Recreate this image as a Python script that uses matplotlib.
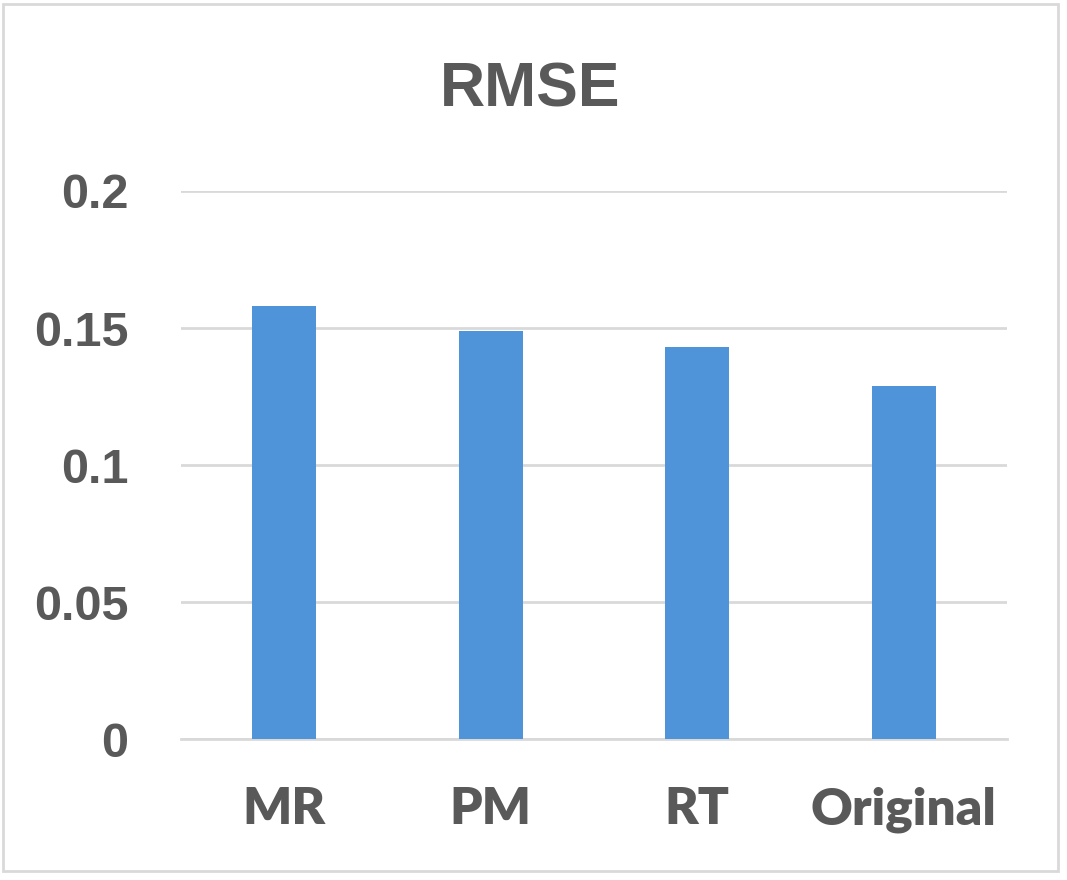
import matplotlib
matplotlib.use("Agg")
import matplotlib.pyplot as plt
from matplotlib.patches import Rectangle

categories = ["MR", "PM", "RT", "Original"]
values = [0.158, 0.149, 0.143, 0.129]
yticks = [0, 0.05, 0.1, 0.15, 0.2]
ytick_labels = ["0", "0.05", "0.1", "0.15", "0.2"]

W, H = 1067, 880
fig = plt.figure(figsize=(W / 100, H / 100), dpi=100)
fig.patch.set_facecolor("white")
fig.add_artist(Rectangle((3 / W, 9 / H), 1055 / W, 867 / H, transform=fig.transFigure,
                         fill=False, edgecolor="#D9D9D9", linewidth=2))

ax = fig.add_axes([181 / W, 141 / H, 826 / W, 548 / H])
txt = "#595959"
x = list(range(len(categories)))
ax.bar(x, values, width=0.31, color="#4F94D9", zorder=3)
ax.set_xlim(-0.5, len(categories) - 0.5)
ax.set_ylim(0, 0.2)
ax.set_yticks(yticks)
ax.set_yticklabels(ytick_labels, fontfamily="Liberation Sans", fontweight="bold",
                   fontsize=35, color=txt)
ax.set_xticks(x)
ax.set_xticklabels(categories, fontfamily="Lato", fontweight="heavy", fontsize=37, color=txt)
ax.tick_params(axis="y", length=0, pad=38)
ax.tick_params(axis="x", length=0, pad=34)
ax.grid(axis="y", color="#D9D9D9", linewidth=2, zorder=0)
for s in ["top", "right", "left"]:
    ax.spines[s].set_visible(False)
ax.spines["bottom"].set_color("#D9D9D9")
ax.spines["bottom"].set_linewidth(2)

fig.text(530 / W, 1 - 90 / H, "RMSE", ha="center", va="center", fontfamily="Liberation Sans",
         fontweight="bold", fontsize=45, color=txt)

fig.savefig("out.png", dpi=100)
